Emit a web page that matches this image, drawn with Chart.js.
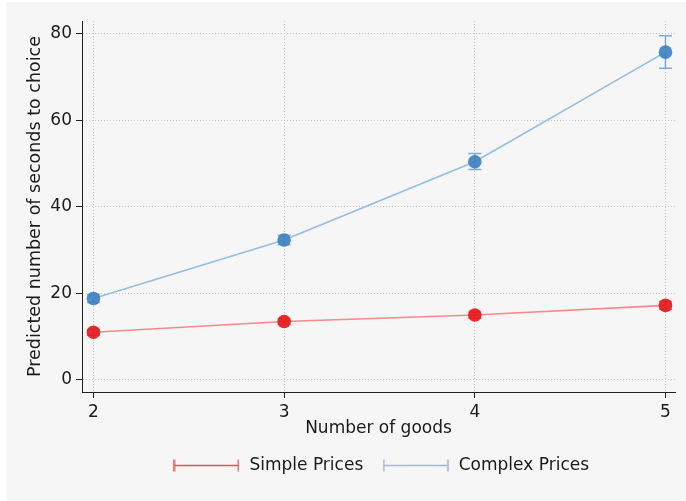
<!DOCTYPE html>
<html>
<head>
<meta charset="utf-8">
<script src="https://cdn.jsdelivr.net/npm/chart.js@4.4.1/dist/chart.umd.min.js"></script>
<style>
  html, body { margin: 0; padding: 0; background: #ffffff; }
  canvas { display: block; }
</style>
</head>
<body>
<canvas id="chart" width="686" height="501"></canvas>
<script>
// Number of goods on the x axis
const goods = [2, 3, 4, 5];
const xTicks = [2, 3, 4, 5];
const yTicks = [0, 20, 40, 60, 80];

// Predicted seconds to choice, with confidence bounds
const simpleMean = [11.0, 13.5, 15.0, 17.2];
const simpleLow  = [10.3, 12.8, 14.3, 16.3];
const simpleHigh = [11.7, 14.2, 15.7, 18.1];

const complexMean = [18.8, 32.3, 50.4, 75.7];
const complexLow  = [17.9, 31.2, 48.6, 72.0];
const complexHigh = [19.7, 33.4, 52.3, 79.5];

const FONT = 'DejaVu Sans';
const TEXT = '#1a1a1a';
const BG = '#f6f6f6';

const RED_LINE = '#f28b8b';
const RED_MARK = 'rgba(228, 26, 28, 0.92)';
const RED_BAR = '#ee6f70';
const BLUE_LINE = '#96bde0';
const BLUE_MARK = 'rgba(62, 130, 192, 0.92)';
const BLUE_BAR = '#7eaad4';

// Legend key: horizontal line with end caps
function capKey(color) {
  const c = document.createElement('canvas');
  c.width = 66; c.height = 13;
  const g = c.getContext('2d');
  g.strokeStyle = color;
  g.lineWidth = 1.5;
  g.beginPath();
  g.moveTo(1, 6.5); g.lineTo(65, 6.5);
  g.moveTo(1, 0.5); g.lineTo(1, 12.5);
  g.moveTo(65, 0.5); g.lineTo(65, 12.5);
  g.stroke();
  return c;
}
const legendKeys = [capKey('#ef4f50'), capKey(BLUE_LINE)];

const toPoints = (xs, ys) => xs.map((x, i) => ({ x: x, y: ys[i] }));

const datasets = [
  {
    label: 'Simple Prices',
    data: toPoints(goods, simpleMean),
    low: simpleLow, high: simpleHigh, barColor: RED_BAR,
    borderColor: RED_LINE, borderWidth: 1.6,
    pointRadius: 6.8, pointBackgroundColor: RED_MARK, pointBorderWidth: 0,
    tension: 0
  },
  {
    label: 'Complex Prices',
    data: toPoints(goods, complexMean),
    low: complexLow, high: complexHigh, barColor: BLUE_BAR,
    borderColor: BLUE_LINE, borderWidth: 1.6,
    pointRadius: 6.8, pointBackgroundColor: BLUE_MARK, pointBorderWidth: 0,
    tension: 0
  }
];

// Page background
const background = {
  id: 'background',
  beforeDraw(chart) {
    const ctx = chart.ctx;
    ctx.save();
    ctx.fillStyle = '#ffffff';
    ctx.fillRect(0, 0, chart.width, chart.height);
    ctx.fillStyle = BG;
    ctx.fillRect(6, 2, chart.width - 6, chart.height - 2);
    ctx.restore();
  }
};

// Center the legend under the plot area rather than the whole canvas
const legendShift = {
  id: 'legendShift',
  afterLayout(chart) {
    const lg = chart.legend;
    if (!lg) return;
    const area = chart.chartArea;
    const dx = (area.left + area.right) / 2 + 2 - (lg.left + lg.right) / 2;
    lg.left += dx;
    lg.right += dx;
  }
};

// Capped confidence bars, drawn beneath the markers
const errorBars = {
  id: 'errorBars',
  beforeDatasetsDraw(chart) {
    const ctx = chart.ctx;
    const xs = chart.scales.x, ys = chart.scales.y;
    ctx.save();
    chart.data.datasets.forEach(ds => {
      ctx.strokeStyle = ds.barColor;
      ctx.lineWidth = 1.5;
      ds.data.forEach((p, i) => {
        const px = xs.getPixelForValue(p.x);
        const lo = ys.getPixelForValue(ds.low[i]);
        const hi = ys.getPixelForValue(ds.high[i]);
        ctx.beginPath();
        ctx.moveTo(px, lo); ctx.lineTo(px, hi);
        ctx.moveTo(px - 6.5, lo); ctx.lineTo(px + 6.5, lo);
        ctx.moveTo(px - 6.5, hi); ctx.lineTo(px + 6.5, hi);
        ctx.stroke();
      });
    });
    ctx.restore();
  }
};

const gridStyle = {
  color: '#c6c6c6',
  lineWidth: 1,
  tickLength: 6,
  tickColor: '#222',
  tickWidth: 1,
  tickBorderDash: []
};

new Chart(document.getElementById('chart'), {
  type: 'line',
  data: { datasets: datasets },
  plugins: [background, legendShift, errorBars],
  options: {
    responsive: false,
    animation: false,
    layout: { padding: { left: 21, right: 11, top: 21, bottom: 17 } },
    scales: {
      x: {
        type: 'linear',
        min: 1.94,
        max: 5.05,
        afterBuildTicks: s => { s.ticks = xTicks.map(v => ({ value: v })); },
        afterFit: s => { s.height = 47; },
        ticks: {
          font: { family: FONT, size: 17 },
          color: TEXT,
          padding: 4,
          maxRotation: 0,
          callback: v => String(v)
        },
        grid: gridStyle,
        border: { display: true, color: '#222', width: 1, dash: [1, 2] },
        title: {
          display: true,
          text: 'Number of goods',
          font: { family: FONT, size: 17 },
          color: TEXT,
          padding: { top: 0, bottom: 0 }
        }
      },
      y: {
        type: 'linear',
        min: -2.8,
        max: 82.9,
        afterBuildTicks: s => { s.ticks = yTicks.map(v => ({ value: v })); },
        afterFit: s => { s.width = 61; },
        ticks: {
          font: { family: FONT, size: 17 },
          color: TEXT,
          padding: 4,
          callback: v => String(v)
        },
        grid: gridStyle,
        border: { display: true, color: '#222', width: 1, dash: [1, 2] },
        title: {
          display: true,
          text: 'Predicted number of seconds to choice',
          font: { family: FONT, size: 17.5 },
          color: TEXT,
          padding: { top: 4, bottom: 4 }
        }
      }
    },
    plugins: {
      tooltip: { enabled: false },
      legend: {
        position: 'bottom',
        labels: {
          usePointStyle: true,
          pointStyleWidth: 69,
          padding: 18,
          color: TEXT,
          font: { family: FONT, size: 17 },
          generateLabels: chart => {
            const items = Chart.defaults.plugins.legend.labels.generateLabels(chart);
            items.forEach(it => { it.pointStyle = legendKeys[it.datasetIndex]; });
            return items;
          }
        }
      }
    }
  }
});
</script>
</body>
</html>
